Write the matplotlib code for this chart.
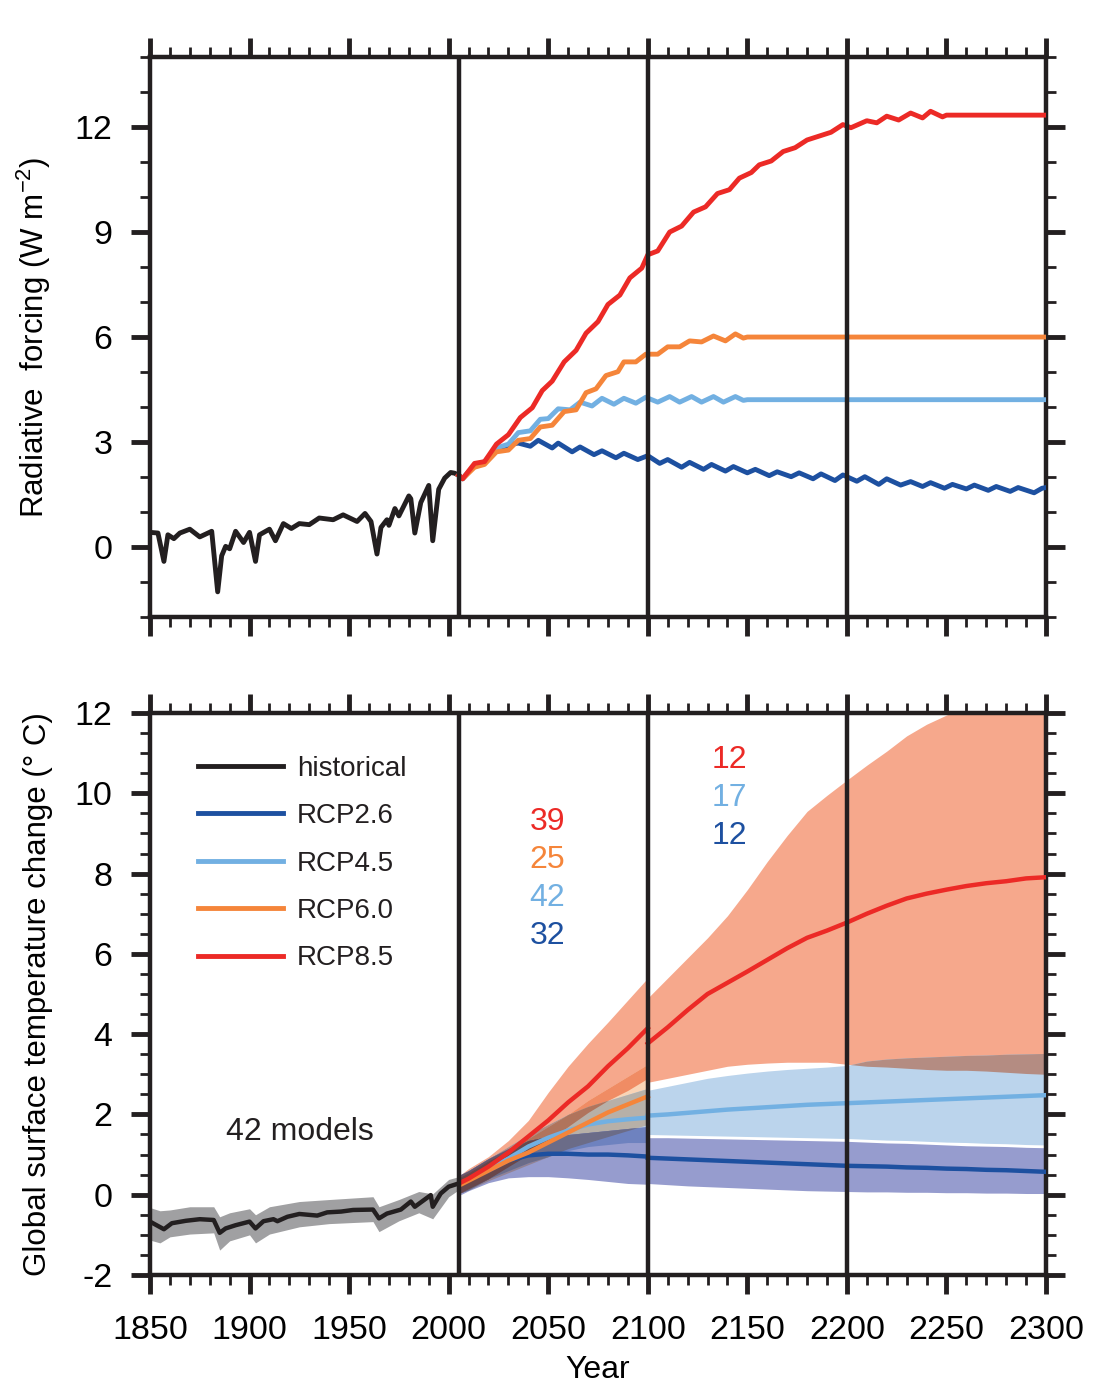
import numpy as np
import matplotlib.pyplot as plt
from matplotlib.colors import to_rgb
from matplotlib.ticker import MultipleLocator
from itertools import combinations

plt.rcParams['font.family'] = ['Liberation Sans', 'DejaVu Sans']
plt.rcParams['mathtext.default'] = 'regular'
plt.rcParams['axes.unicode_minus'] = False

# ---------------- data ----------------
# radiative forcing (W m-2)
hist_rf_years = [1850, 1854, 1857, 1859, 1862, 1865, 1870, 1875, 1881, 1884, 1886, 1888, 1890,
                 1893, 1897, 1900, 1903, 1905, 1910, 1913, 1917, 1921, 1925, 1930, 1935, 1942,
                 1947, 1954, 1958, 1961, 1964, 1966, 1969, 1970, 1973, 1975, 1980, 1981, 1983,
                 1986, 1990, 1992, 1995, 1998, 2001, 2003, 2005]
hist_rf = [0.42, 0.40, -0.41, 0.35, 0.24, 0.40, 0.51, 0.29, 0.45, -1.28, -0.25, 0.02, -0.05,
           0.45, 0.13, 0.42, -0.41, 0.35, 0.51, 0.18, 0.67, 0.53, 0.67, 0.64, 0.83, 0.78,
           0.92, 0.73, 0.96, 0.73, -0.20, 0.56, 0.78, 0.62, 1.10, 0.89, 1.46, 1.38, 0.40,
           1.27, 1.76, 0.18, 1.65, 1.97, 2.13, 2.11, 2.05]

rcp85_rf_years = [2005, 2007, 2013, 2018, 2024, 2030, 2036, 2042, 2047, 2052, 2058, 2064, 2069,
                  2075, 2080, 2086, 2091, 2097, 2100, 2105, 2111, 2117, 2123, 2129, 2135, 2141,
                  2146, 2152, 2156, 2162, 2168, 2174, 2180, 2186, 2192, 2198, 2202, 2210, 2215,
                  2220, 2226, 2232, 2238, 2242, 2248, 2250, 2300]
rcp85_rf = [2.05, 1.95, 2.39, 2.44, 2.94, 3.21, 3.70, 3.98, 4.47, 4.74, 5.29, 5.62, 6.11,
            6.44, 6.93, 7.20, 7.69, 7.97, 8.35, 8.46, 9.00, 9.17, 9.57, 9.72, 10.10, 10.21,
            10.54, 10.70, 10.92, 11.03, 11.30, 11.41, 11.63, 11.74, 11.85, 12.07, 11.98, 12.18,
            12.12, 12.31, 12.20, 12.40, 12.26, 12.45, 12.29, 12.34, 12.34]

rcp60_rf_years = [2005, 2007, 2013, 2018, 2024, 2030, 2035, 2041, 2046, 2052, 2058, 2064, 2069,
                  2074, 2079, 2085, 2088, 2094, 2099, 2105, 2110, 2116, 2121, 2127, 2133, 2139,
                  2144, 2148, 2150, 2300]
rcp60_rf = [2.05, 1.95, 2.28, 2.36, 2.72, 2.77, 3.05, 3.10, 3.43, 3.48, 3.87, 3.92, 4.41,
            4.52, 4.90, 5.01, 5.29, 5.29, 5.51, 5.51, 5.72, 5.72, 5.89, 5.86, 6.03, 5.89,
            6.09, 5.97, 6.00, 6.00]

rcp45_rf_years = [2005, 2007, 2013, 2018, 2024, 2030, 2035, 2041, 2046, 2050, 2055, 2061, 2066,
                  2072, 2077, 2083, 2088, 2094, 2099, 2105, 2111, 2116, 2122, 2127, 2133, 2138,
                  2144, 2148, 2150, 2300]
rcp45_rf = [2.05, 1.95, 2.35, 2.44, 2.83, 2.94, 3.27, 3.32, 3.65, 3.67, 3.95, 3.92, 4.14,
            4.03, 4.25, 4.08, 4.25, 4.11, 4.28, 4.14, 4.30, 4.14, 4.30, 4.14, 4.30, 4.14,
            4.30, 4.19, 4.21, 4.21]

rcp26_rf_years = [2005, 2007, 2013, 2018, 2024, 2031, 2035, 2041, 2045, 2052, 2055, 2062, 2066,
                  2073, 2077, 2084, 2088, 2095, 2100, 2106, 2110, 2117, 2121, 2128, 2132, 2139,
                  2143, 2150, 2154, 2161, 2165, 2172, 2176, 2183, 2187, 2194, 2198, 2205, 2209,
                  2216, 2220, 2227, 2232, 2238, 2242, 2249, 2253, 2260, 2264, 2271, 2275, 2282,
                  2286, 2294, 2298, 2300]
rcp26_rf = [2.05, 1.95, 2.33, 2.40, 2.77, 2.94, 2.97, 2.88, 3.05, 2.83, 2.97, 2.72, 2.86,
            2.64, 2.75, 2.55, 2.68, 2.50, 2.61, 2.39, 2.50, 2.28, 2.42, 2.22, 2.36, 2.17,
            2.30, 2.12, 2.22, 2.04, 2.15, 2.01, 2.12, 1.95, 2.09, 1.90, 2.06, 1.88, 2.01,
            1.79, 1.95, 1.77, 1.87, 1.73, 1.84, 1.68, 1.79, 1.66, 1.77, 1.62, 1.73, 1.59,
            1.70, 1.55, 1.68, 1.70]

# global surface temperature change (deg C), historical
hist_t_years = [1850, 1857, 1861, 1868, 1875, 1882, 1885, 1888, 1893, 1900, 1903, 1907, 1912,
                1914, 1919, 1925, 1934, 1939, 1946, 1952, 1962, 1965, 1969, 1976, 1981, 1983,
                1991, 1992, 1996, 2000, 2005]
hist_t = [-0.67, -0.86, -0.71, -0.65, -0.61, -0.63, -0.95, -0.84, -0.76, -0.67, -0.84, -0.66,
          -0.61, -0.66, -0.55, -0.48, -0.52, -0.44, -0.42, -0.38, -0.37, -0.59, -0.47, -0.37,
          -0.17, -0.30, -0.01, -0.30, 0.03, 0.20, 0.28]
hist_band_years = [1850, 1855, 1860, 1870, 1882, 1885, 1890, 1900, 1903, 1910, 1925, 1940,
                   1962, 1965, 1975, 1985, 1992, 2000, 2005]
hist_hi = [-0.32, -0.40, -0.38, -0.30, -0.30, -0.55, -0.45, -0.35, -0.50, -0.30, -0.17, -0.12,
           -0.05, -0.30, -0.12, 0.08, 0.02, 0.38, 0.45]
hist_lo = [-1.13, -1.20, -1.05, -0.98, -0.95, -1.38, -1.15, -1.00, -1.20, -0.98, -0.80, -0.72,
           -0.67, -0.92, -0.65, -0.45, -0.60, -0.05, 0.12]

# 2006-2100 (all models)
yrs_a = [2006, 2010, 2020, 2030, 2040, 2050, 2060, 2070, 2080, 2090, 2100]
rcp85_a = [0.30, 0.40, 0.70, 1.05, 1.45, 1.85, 2.30, 2.70, 3.20, 3.65, 4.15]
rcp85_a_hi = [0.50, 0.65, 0.95, 1.35, 1.85, 2.55, 3.20, 3.77, 4.30, 4.85, 5.40]
rcp85_a_lo = [0.05, 0.15, 0.40, 0.70, 1.00, 1.35, 1.70, 2.05, 2.35, 2.60, 2.90]
rcp60_a = [0.25, 0.35, 0.60, 0.85, 1.05, 1.30, 1.55, 1.80, 2.05, 2.25, 2.45]
rcp60_a_hi = [0.45, 0.55, 0.85, 1.10, 1.40, 1.70, 2.00, 2.35, 2.65, 2.95, 3.25]
rcp60_a_lo = [0.05, 0.12, 0.35, 0.55, 0.75, 0.95, 1.15, 1.30, 1.45, 1.60, 1.75]
rcp45_a = [0.28, 0.38, 0.65, 0.90, 1.20, 1.42, 1.60, 1.75, 1.83, 1.88, 1.92]
rcp45_a_hi = [0.50, 0.60, 0.90, 1.20, 1.50, 1.75, 2.00, 2.20, 2.35, 2.50, 2.65]
rcp45_a_lo = [0.05, 0.12, 0.40, 0.60, 0.80, 0.95, 1.10, 1.20, 1.25, 1.30, 1.30]
rcp26_a = [0.28, 0.38, 0.60, 0.85, 0.98, 1.02, 1.02, 1.00, 1.00, 0.98, 0.95]
rcp26_a_hi = [0.50, 0.60, 0.90, 1.15, 1.35, 1.45, 1.50, 1.55, 1.60, 1.65, 1.70]
rcp26_a_lo = [0.00, 0.10, 0.30, 0.42, 0.45, 0.45, 0.42, 0.38, 0.33, 0.28, 0.26]

# 2100-2300 (extended runs)
yrs_b = [2100, 2110, 2120, 2130, 2140, 2150, 2160, 2170, 2180, 2190, 2200,
         2210, 2220, 2230, 2240, 2250, 2260, 2270, 2280, 2290, 2300]
rcp85_b = [3.77, 4.17, 4.60, 5.00, 5.28, 5.56, 5.85, 6.14, 6.40, 6.58, 6.78,
           7.00, 7.20, 7.38, 7.50, 7.60, 7.69, 7.76, 7.81, 7.88, 7.91]
rcp85_b_hi = [4.90, 5.40, 5.90, 6.40, 6.95, 7.60, 8.30, 8.95, 9.55, 9.95, 10.33,
              10.70, 11.05, 11.43, 11.72, 11.95, 12.15, 12.30, 12.45, 12.55, 12.60]
rcp85_b_lo = [2.80, 2.90, 3.00, 3.10, 3.20, 3.25, 3.28, 3.30, 3.30, 3.30, 3.25,
              3.20, 3.18, 3.15, 3.12, 3.10, 3.10, 3.08, 3.05, 3.02, 3.00]
rcp45_b = [1.97, 2.00, 2.04, 2.08, 2.12, 2.15, 2.18, 2.21, 2.24, 2.26, 2.28,
           2.30, 2.32, 2.34, 2.36, 2.38, 2.40, 2.42, 2.44, 2.46, 2.48]
rcp45_b_hi = [2.60, 2.70, 2.80, 2.90, 2.97, 3.03, 3.08, 3.12, 3.15, 3.18, 3.22,
              3.33, 3.38, 3.41, 3.43, 3.45, 3.47, 3.48, 3.50, 3.51, 3.52]
rcp45_b_lo = [1.50, 1.49, 1.48, 1.47, 1.46, 1.45, 1.44, 1.43, 1.42, 1.41, 1.40,
              1.38, 1.36, 1.35, 1.33, 1.31, 1.30, 1.28, 1.27, 1.25, 1.24]
rcp26_b = [0.92, 0.90, 0.88, 0.86, 0.84, 0.82, 0.80, 0.78, 0.76, 0.74, 0.72,
           0.71, 0.70, 0.68, 0.67, 0.65, 0.64, 0.62, 0.61, 0.59, 0.57]
rcp26_b_hi = [1.42, 1.42, 1.41, 1.40, 1.39, 1.38, 1.37, 1.36, 1.35, 1.34, 1.33,
              1.31, 1.29, 1.28, 1.26, 1.24, 1.22, 1.21, 1.20, 1.18, 1.17]
rcp26_b_lo = [0.28, 0.25, 0.22, 0.20, 0.18, 0.16, 0.14, 0.12, 0.10, 0.09, 0.08,
              0.07, 0.07, 0.06, 0.06, 0.05, 0.05, 0.04, 0.04, 0.03, 0.03]

# model counts
counts_a = ['39', '25', '42', '32']
counts_b = ['12', '17', '12']

# ---------------- style ----------------
K = '#231f20'
C26, C45, C60, C85 = '#1d50a0', '#72b0e2', '#f5853a', '#ec2a26'
S26, S45, S60, S85 = '#969cce', '#bbd4ec', '#f9d4b6', '#f6a88c'
SHIST = '#a0a0a2'
FS = 24.5


def style_axes(ax, ymaj, ymin, xlabels):
    ax.set_xlim(1850, 2300)
    ax.xaxis.set_major_locator(MultipleLocator(50))
    ax.xaxis.set_minor_locator(MultipleLocator(10))
    ax.yaxis.set_major_locator(MultipleLocator(ymaj))
    ax.yaxis.set_minor_locator(MultipleLocator(ymin))
    ax.tick_params(which='both', direction='out', top=True, right=True, color=K)
    ax.tick_params(which='major', length=14, width=3.5, labelsize=FS, pad=13)
    ax.tick_params(axis='x', which='major', pad=15)
    ax.tick_params(which='minor', length=7.5, width=2)
    ax.tick_params(axis='x', labelbottom=xlabels)
    for s in ax.spines.values():
        s.set_linewidth(3.2)
        s.set_color(K)
    for yr in (2005, 2100, 2200):
        ax.axvline(yr, color=K, lw=3.2, zorder=10)


def shade(ax, years, bands):
    # multiply-style blending of overlapping ranges
    for k in range(1, len(bands) + 1):
        for combo in combinations(bands, k):
            lo = np.max([b[0] for b in combo], axis=0)
            hi = np.min([b[1] for b in combo], axis=0)
            rgb = np.prod([to_rgb(b[2]) for b in combo], axis=0)
            ax.fill_between(years, lo, hi, where=hi > lo, interpolate=True,
                            color=rgb, lw=0, zorder=2)


fig = plt.figure(figsize=(11.02, 13.91), dpi=100)
ax1 = fig.add_axes([0.1361, 0.5564, 0.8131, 0.4026])
ax2 = fig.add_axes([0.1361, 0.0834, 0.8131, 0.4040])

# ---- top: radiative forcing ----
ax1.plot(hist_rf_years, hist_rf, color=K, lw=3.5, zorder=5)
ax1.plot(rcp26_rf_years, rcp26_rf, color=C26, lw=3.5, zorder=5)
ax1.plot(rcp45_rf_years, rcp45_rf, color=C45, lw=3.5, zorder=5)
ax1.plot(rcp60_rf_years, rcp60_rf, color=C60, lw=3.5, zorder=5)
ax1.plot(rcp85_rf_years, rcp85_rf, color=C85, lw=3.5, zorder=6)
ax1.set_ylim(-2, 14)
style_axes(ax1, 3, 1, False)
ax1.set_ylabel('Radiative  forcing (W m$^{-2}$)', fontsize=22.5)
ax1.yaxis.set_label_coords(-0.108, 0.5)

# ---- bottom: temperature ----
shade(ax2, hist_band_years, [(np.array(hist_lo), np.array(hist_hi), SHIST)])
shade(ax2, yrs_a, [(np.array(rcp85_a_lo), np.array(rcp85_a_hi), S85),
                   (np.array(rcp60_a_lo), np.array(rcp60_a_hi), S60),
                   (np.array(rcp45_a_lo), np.array(rcp45_a_hi), S45),
                   (np.array(rcp26_a_lo), np.array(rcp26_a_hi), S26)])
shade(ax2, yrs_b, [(np.array(rcp85_b_lo), np.array(rcp85_b_hi), S85),
                   (np.array(rcp45_b_lo), np.array(rcp45_b_hi), S45),
                   (np.array(rcp26_b_lo), np.array(rcp26_b_hi), S26)])

ax2.plot(hist_t_years, hist_t, color=K, lw=3.2, zorder=5, label='historical')
ax2.plot(yrs_a, rcp26_a, color=C26, lw=3.2, zorder=5, label='RCP2.6')
ax2.plot(yrs_b, rcp26_b, color=C26, lw=3.2, zorder=5)
ax2.plot(yrs_a, rcp45_a, color=C45, lw=3.2, zorder=5, label='RCP4.5')
ax2.plot(yrs_b, rcp45_b, color=C45, lw=3.2, zorder=5)
ax2.plot(yrs_a, rcp60_a, color=C60, lw=3.2, zorder=5, label='RCP6.0')
ax2.plot(yrs_a, rcp85_a, color=C85, lw=3.2, zorder=6, label='RCP8.5')
ax2.plot(yrs_b, rcp85_b, color=C85, lw=3.2, zorder=6)

ax2.set_ylim(-2, 12)
style_axes(ax2, 2, 0.5, True)
ax2.set_ylabel('Global surface temperature change (° C)', fontsize=22.5)
ax2.yaxis.set_label_coords(-0.108, 0.5)
ax2.set_xlabel('Year', fontsize=23)
ax2.xaxis.set_label_coords(0.5, -0.143)

leg = ax2.legend(loc='upper left', bbox_to_anchor=(0.054, 0.924), frameon=False,
                 fontsize=20, handlelength=3.05, handletextpad=0.5, labelspacing=0.77,
                 borderpad=0, borderaxespad=0)
for h in leg.get_lines():
    h.set_linewidth(3.5)
for t in leg.get_texts():
    t.set_color(K)

for txt, col, yv in zip(counts_a, [C85, C60, C45, C26], [9.28, 8.34, 7.39, 6.45]):
    ax2.text(2049.5, yv, txt, color=col, fontsize=23, ha='center', va='center')
for txt, col, yv in zip(counts_b, [C85, C45, C26], [10.83, 9.88, 8.94]):
    ax2.text(2141, yv, txt, color=col, fontsize=23, ha='center', va='center')
ax2.text(1925.3, 1.56, '42 models', color=K, fontsize=23, ha='center', va='center')

fig.savefig('out.png', dpi=100, facecolor='white')
